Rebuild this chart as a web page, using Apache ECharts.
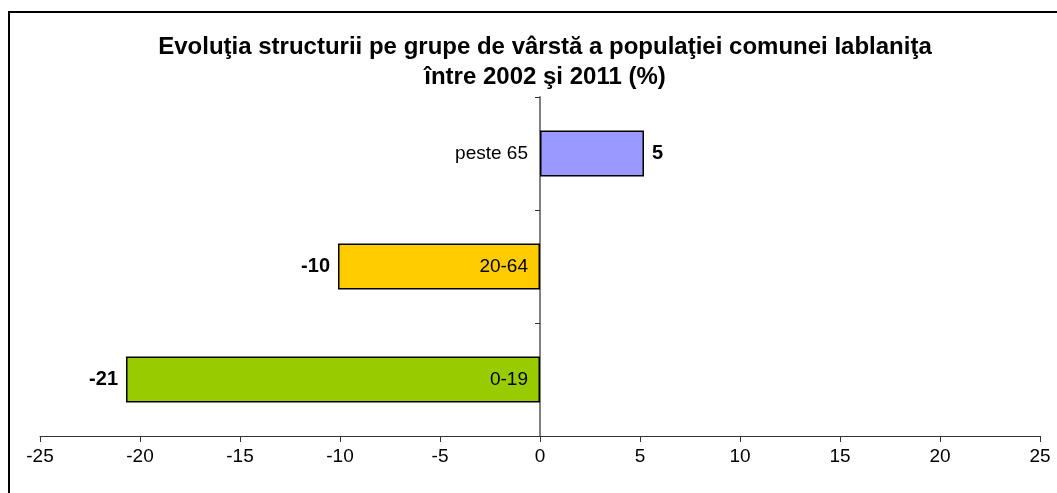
<!DOCTYPE html>
<html>
<head>
<meta charset="utf-8">
<script src="https://cdn.jsdelivr.net/npm/echarts@6/dist/echarts.min.js"></script>
<style>
  html, body { margin: 0; padding: 0; background: #fff; }
  #chart { width: 1057px; height: 493px; }
</style>
</head>
<body>
<div id="chart"></div>
<script>
// grupe de varsta (de jos in sus)
var categories = ['0-19', '20-64', 'peste 65'];
var values = [-20.7, -10.1, 5.2];
var barColors = ['#99CC00', '#FFCC00', '#9999FF'];
var xTicks = { min: -25, max: 25, interval: 5 };

var myChart = echarts.init(document.getElementById('chart'));

var seriesData = values.map(function (v, i) {
    return {
        value: v,
        itemStyle: { color: barColors[i] },
        label: { position: v >= 0 ? 'right' : 'left' }
    };
});

// etichetele categoriilor stau langa axa de la zero
var catLabelData = categories.map(function (c) {
    return [0, c];
});

var option = {
    backgroundColor: '#fff',
    animation: false,
    title: {
        text: 'Evoluţia structurii pe grupe de vârstă a populaţiei comunei Iablaniţa\nîntre 2002 şi 2011 (%)',
        left: 540,
        textAlign: 'center',
        top: 27,
        textStyle: {
            fontFamily: 'Liberation Sans',
            fontSize: 24,
            fontWeight: 'bold',
            color: '#000',
            lineHeight: 30
        }
    },
    graphic: [{
        type: 'rect',
        shape: { x: 9, y: 12, width: 1100, height: 600 },
        style: { fill: 'none', stroke: '#000', lineWidth: 2 },
        silent: true
    }],
    grid: { left: 40, right: 17, top: 97, bottom: 57, containLabel: false, outerBoundsMode: 'none' },
    xAxis: {
        type: 'value',
        min: xTicks.min,
        max: xTicks.max,
        interval: xTicks.interval,
        splitLine: { show: false },
        axisLine: { show: true, onZero: false, lineStyle: { color: '#333', width: 1 } },
        axisTick: { show: true, length: 6, lineStyle: { color: '#333' } },
        axisLabel: { fontFamily: 'Liberation Sans', fontSize: 19, color: '#000', margin: 11 }
    },
    yAxis: {
        type: 'category',
        data: categories,
        axisLine: { show: true, onZero: true, lineStyle: { color: '#808080', width: 2 } },
        axisTick: { show: true, length: 5, lineStyle: { color: '#333' } },
        axisLabel: { show: false }
    },
    series: [{
        type: 'bar',
        data: seriesData,
        barWidth: 46,
        itemStyle: { borderColor: '#000', borderWidth: 1.5 },
        label: {
            show: true,
            fontFamily: 'Liberation Sans',
            fontSize: 20,
            fontWeight: 'bold',
            color: '#000',
            distance: 8,
            formatter: function (p) { return Math.round(p.value); }
        },
        z: 2
    }, {
        type: 'scatter',
        data: catLabelData,
        symbolSize: 0,
        silent: true,
        z: 5,
        itemStyle: { opacity: 1 },
        label: {
            show: true,
            position: 'left',
            distance: 12,
            fontFamily: 'Liberation Sans',
            fontSize: 19,
            color: '#000',
            opacity: 1,
            formatter: function (p) { return p.value[1]; }
        }
    }]
};

myChart.setOption(option);
</script>
</body>
</html>
